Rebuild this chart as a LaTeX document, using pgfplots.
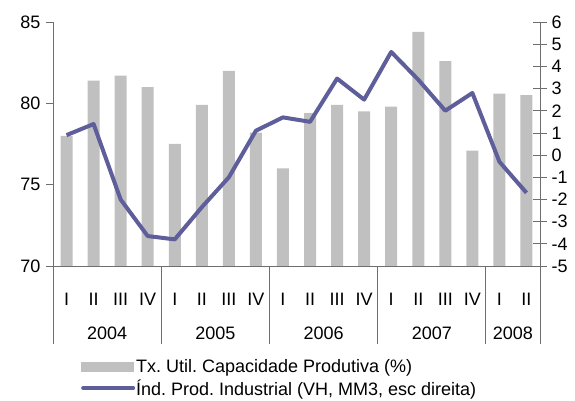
\documentclass[border=0pt]{standalone}
\usepackage{pgfplots}
\pgfplotsset{compat=1.18}
\usepackage{fontspec}
\setmainfont{Liberation Sans}
\frenchspacing

\definecolor{barfill}{RGB}{192,192,192}
\definecolor{ipiline}{RGB}{94,94,154}
\definecolor{axisgray}{RGB}{110,110,110}

% Tx. Util. Capacidade Produtiva (%), quarters 2004-I .. 2008-II
\pgfplotstableread{
x    util
0.5  78.0
1.5  81.4
2.5  81.7
3.5  81.0
4.5  77.5
5.5  79.9
6.5  82.0
7.5  78.2
8.5  76.0
9.5  79.4
10.5 79.9
11.5 79.5
12.5 79.8
13.5 84.4
14.5 82.6
15.5 77.1
16.5 80.6
17.5 80.5
}\utiltable

% Ind. Prod. Industrial (VH, MM3)
\pgfplotstableread{
x    ipi
0.5   0.9
1.5   1.4
2.5  -2.0
3.5  -3.65
4.5  -3.8
5.5  -2.35
6.5  -1.0
7.5   1.1
8.5   1.7
9.5   1.5
10.5  3.45
11.5  2.5
12.5  4.65
13.5  3.4
14.5  2.0
15.5  2.8
16.5 -0.3
17.5 -1.7
}\ipitable

\begin{document}
\begin{tikzpicture}[font=\fontsize{18}{21}\selectfont]
\useasboundingbox (-53pt,-135pt) rectangle (522pt,266pt);

\begin{axis}[
    width=487pt, height=244pt, scale only axis,
    xmin=0, xmax=18, ymin=70, ymax=85,
    axis x line*=bottom, axis y line*=left,
    axis line style={axisgray, line width=0.8pt},
    every tick/.style={axisgray, line width=0.8pt},
    ytick={70,75,80,85},
    yticklabels={70,75,80,85},
    y tick label style={xshift=-2pt},
    tick align=outside,
    major tick length=7pt,
    xtick={0.5,1.5,...,17.5},
    xticklabels={I,II,III,IV,I,II,III,IV,I,II,III,IV,I,II,III,IV,I,II},
    x tick style={draw=none},
    x tick label style={anchor=center, yshift=-26pt},
    clip=false,
    ]
\addplot[ybar, bar width=12pt, bar shift=0pt, fill=barfill, draw=none]
    table[x=x, y=util] {\utiltable};
\draw[axisgray, line width=0.8pt] (axis cs:0,70) -- ++(0pt,-78pt);
\draw[axisgray, line width=0.8pt] (axis cs:4,70) -- ++(0pt,-78pt);
\draw[axisgray, line width=0.8pt] (axis cs:8,70) -- ++(0pt,-78pt);
\draw[axisgray, line width=0.8pt] (axis cs:12,70) -- ++(0pt,-78pt);
\draw[axisgray, line width=0.8pt] (axis cs:16,70) -- ++(0pt,-78pt);
\draw[axisgray, line width=0.8pt] (axis cs:18,70) -- ++(0pt,-78pt);
\node at ([yshift=-67pt]axis cs:2,70) {2004};
\node at ([yshift=-67pt]axis cs:6,70) {2005};
\node at ([yshift=-67pt]axis cs:10,70) {2006};
\node at ([yshift=-67pt]axis cs:14,70) {2007};
\node at ([yshift=-67pt]axis cs:17,70) {2008};
\end{axis}

\begin{axis}[
    width=487pt, height=244pt, scale only axis,
    xmin=0, xmax=18, ymin=-5, ymax=6,
    axis x line=none, axis y line*=right,
    axis line style={axisgray, line width=0.8pt},
    every tick/.style={axisgray, line width=0.8pt},
    ytick={-5,-4,-3,-2,-1,0,1,2,3,4,5,6},
    yticklabels={-5,-4,-3,-2,-1,0,1,2,3,4,5,6},
    y tick label style={anchor=west, xshift=1pt},
    tick align=center,
    major tick length=14pt,
    clip=false,
    legend style={draw=none, fill=none, at={(0.057,-0.38)}, anchor=north west,
        inner sep=0pt, row sep=3pt,
        nodes={inner sep=1pt, anchor=west},
        /tikz/every even column/.append style={column sep=3pt}},
    legend cell align=left,
    ]
\addlegendimage{legend image code/.code={
    \fill[barfill] (0pt,-4.5pt) rectangle (52pt,4.5pt);}}
\addlegendentry{Tx. Util. Capacidade Produtiva (\%)}
\addplot[ipiline, line width=4pt, line join=round,
    legend image code/.code={\draw[ipiline, line width=4pt, line cap=round] (2pt,0pt) -- (52pt,0pt);}]
    table[x=x, y=ipi] {\ipitable};
\addlegendentry{Índ. Prod. Industrial (VH, MM3, esc direita)}
\end{axis}
\end{tikzpicture}
\end{document}
